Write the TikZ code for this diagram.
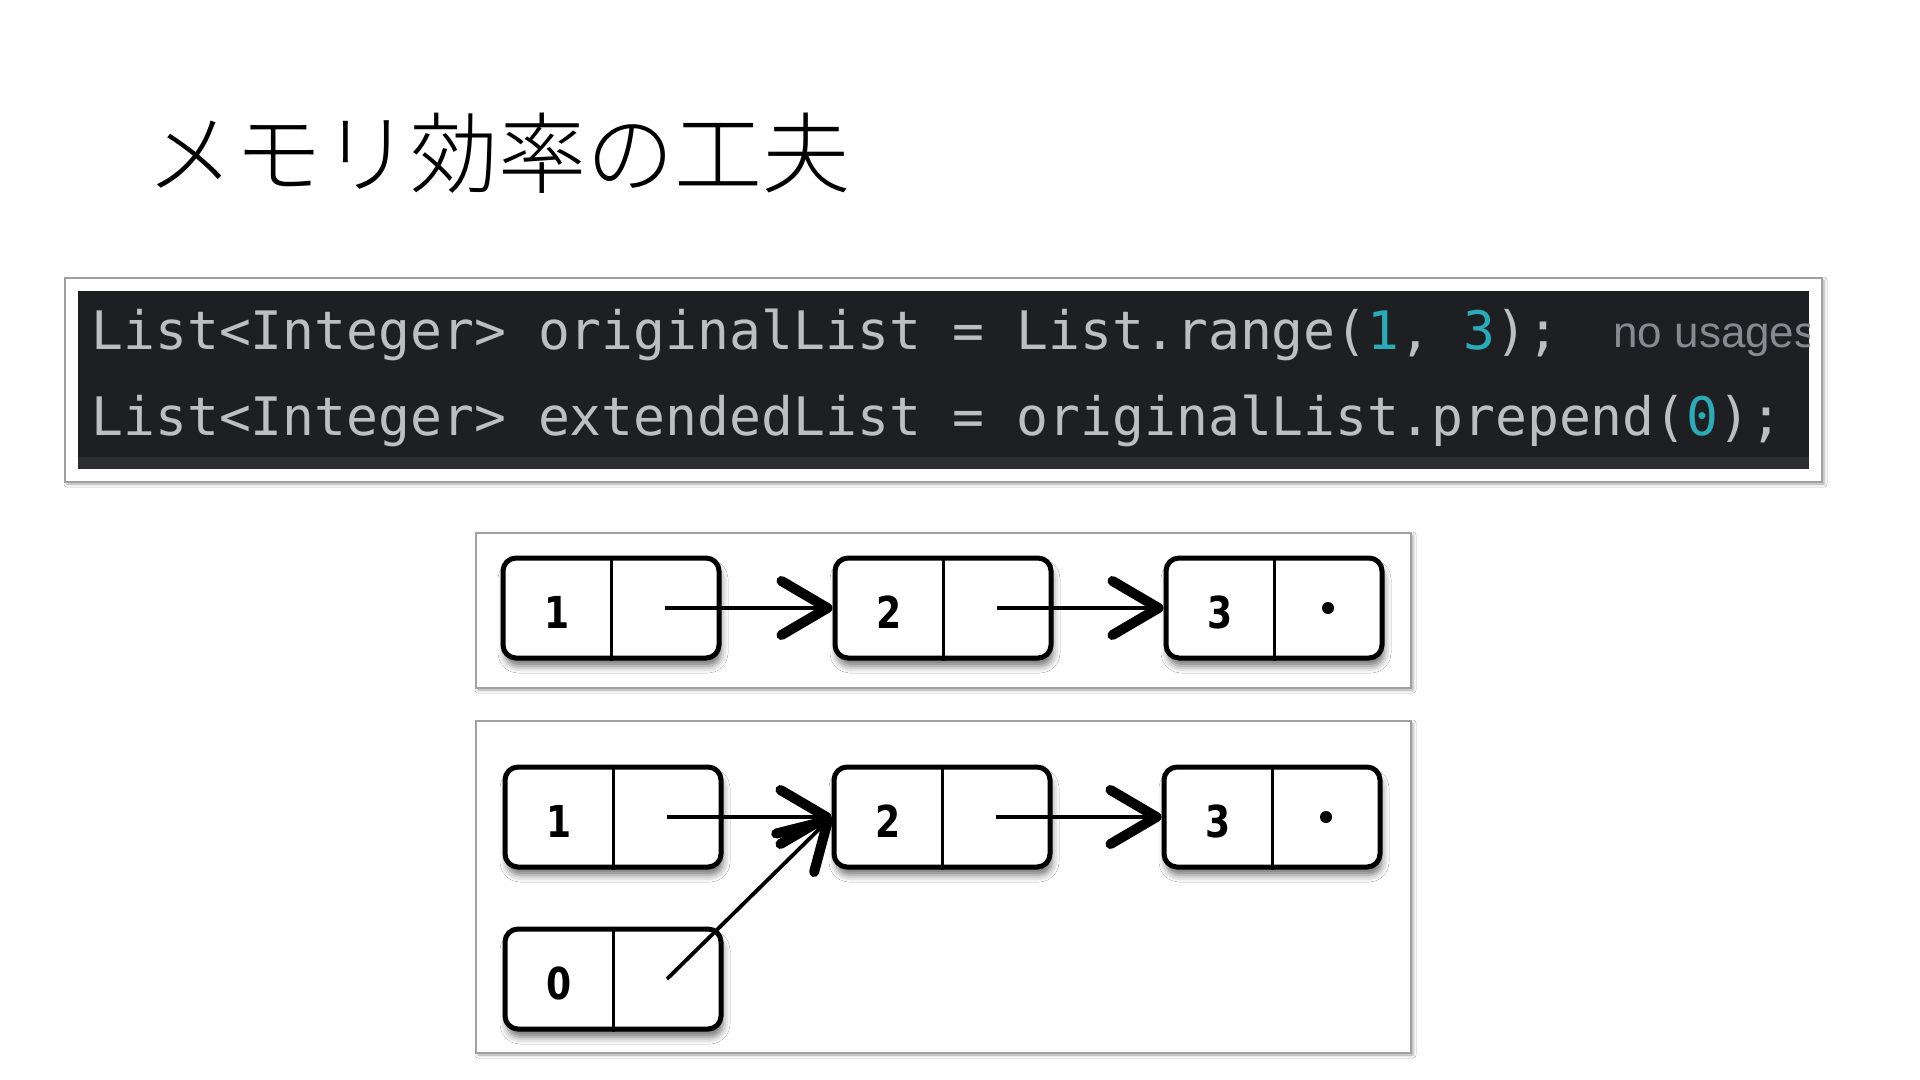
\documentclass[tikz,border=0pt]{standalone}
\usepackage{fontspec}
\setmainfont{Liberation Sans}
\newfontfamily\jpfont{Noto Sans CJK JP}[UprightFont={* Light}]
\newfontfamily\codefont{DejaVu Sans Mono}
\newfontfamily\numfont{DejaVu Sans}[FakeStretch=0.82]
\usetikzlibrary{arrows.meta,shadows.blur,calc}
\definecolor{codebg}{HTML}{1E1F22}
\definecolor{codestrip}{HTML}{2B2D30}
\definecolor{codefg}{HTML}{BCBEC4}
\definecolor{codenum}{HTML}{2AACB8}
\definecolor{hintgray}{HTML}{868A91}
\definecolor{framegray}{HTML}{A0A0A0}
\tikzset{
  frame/.style={draw=framegray, line width=0.8pt, fill=white,
    blur shadow={shadow xshift=1pt, shadow yshift=-1pt, shadow blur radius=1.5pt, shadow opacity=35}},
  cell/.style={draw=black, line width=2.5pt, rounded corners=6.5pt, fill=white,
    minimum width=108pt, minimum height=50pt, inner sep=0pt,
    blur shadow={shadow xshift=1pt, shadow yshift=-4pt, shadow blur radius=3.5pt, shadow opacity=55}},
  divider/.style={line width=1.5pt},
  val/.style={font=\numfont\bfseries\fontsize{22pt}{22pt}\selectfont, inner sep=0pt},
  ptr/.style={line width=1.9pt, -{Straight Barb[length=23pt,width=27pt,line width=5pt,round]}},
  codetext/.style={font=\codefont\fontsize{26.5pt}{26.5pt}\selectfont, text=codefg, inner sep=0pt, anchor=base west},
  nilpt/.style={circle, fill=black, minimum size=6pt, inner sep=0pt},
}
\begin{document}
\begin{tikzpicture}[x=0.5pt,y=-0.5pt]
\useasboundingbox (0,0) rectangle (1920,1080);
\fill[white] (0,0) rectangle (1920,1080);

% title
\node[anchor=west, inner sep=0pt, font=\jpfont\fontsize{44pt}{44pt}\selectfont] (title) at (146,153) {メモリ効率の工夫};

% code block
\path[frame] (65,278) rectangle (1822,482);
\fill[codebg] (78,291) rectangle (1809,469);
\fill[codestrip] (78,457) rectangle (1809,469);
\node[codetext] (line1) at (91,350) {List<Integer> originalList = List.range(\textcolor{codenum}{1}, \textcolor{codenum}{3});};
\node[codetext] (line2) at (91,435) {List<Integer> extendedList = originalList.prepend(\textcolor{codenum}{0});};
\begin{scope}
  \clip (78,291) rectangle (1809,469);
  \node[anchor=base west, inner sep=0pt, text=hintgray, font=\fontsize{22pt}{22pt}\selectfont] (hint) at (1613,348) {no usages};
\end{scope}

% diagram 1
\path[frame] (476,533) rectangle (1411,688);
\node[cell] (a1) at (611,608) {};
\node[cell] (a2) at (943,608) {};
\node[cell] (a3) at (1274,608) {};
\foreach \n/\v in {a1/1,a2/2,a3/3}{
  \draw[divider] (\n.north) -- (\n.south);
  \node[val] (\n v) at ($(\n.center)+(-54,4)$) {\v};
  \coordinate (\n p) at ($(\n.center)+(54,0)$);
}
\node[nilpt] (a3nil) at (a3p) {};
\draw[ptr] (a1p) -- (a2.west);
\draw[ptr] (a2p) -- (a3.west);

% diagram 2
\path[frame] (476,721) rectangle (1411,1053);
\node[cell] (b1) at (613,817) {};
\node[cell] (b2) at (942,817) {};
\node[cell] (b3) at (1272,817) {};
\node[cell] (b0) at (613,979) {};
\foreach \n/\v in {b1/1,b2/2,b3/3,b0/0}{
  \draw[divider] (\n.north) -- (\n.south);
  \node[val] (\n v) at ($(\n.center)+(-54,4)$) {\v};
  \coordinate (\n p) at ($(\n.center)+(54,0)$);
}
\node[nilpt] (b3nil) at (b3p) {};
\draw[ptr] (b1p) -- (b2.west);
\draw[ptr] (b2p) -- (b3.west);
\draw[ptr] (b0p) -- (b2.west);
\end{tikzpicture}
\end{document}
